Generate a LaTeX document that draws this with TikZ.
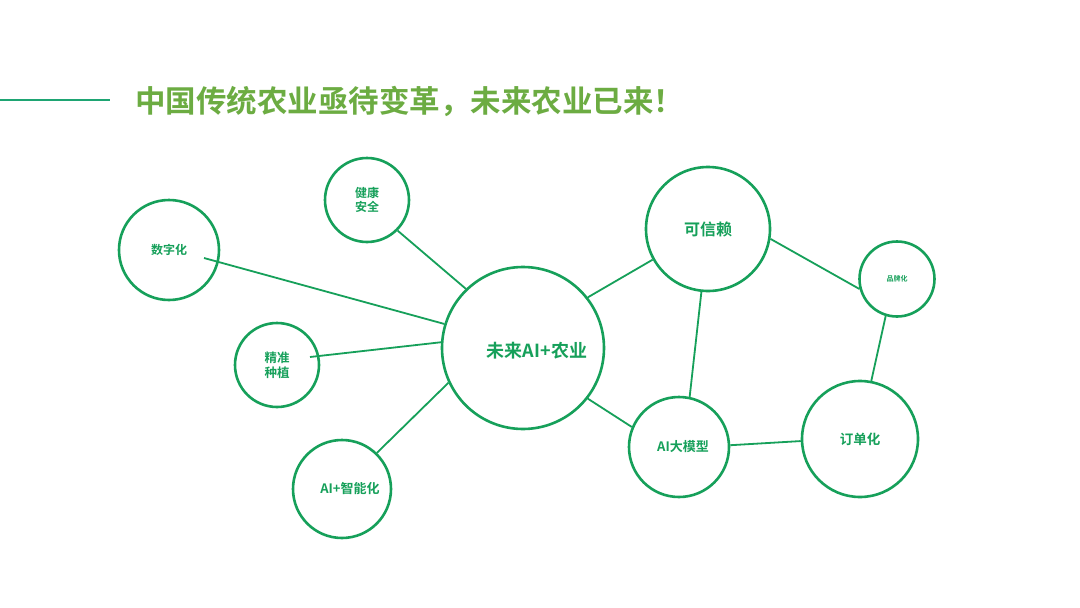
\documentclass[tikz,border=0pt]{standalone}
\usepackage{fontspec}
\setmainfont{Noto Sans CJK SC}[BoldFont={Noto Sans CJK SC Bold}]
\definecolor{cgreen}{RGB}{22,160,90}
\definecolor{tgreen}{RGB}{108,172,66}
\definecolor{lgreen}{RGB}{30,165,115}
\begin{document}
\begin{tikzpicture}[x=1pt,y=-1pt,
  bub/.style={circle,draw=cgreen,line width=2.6pt,inner sep=0pt,text=cgreen,font=\bfseries,align=center},
  link/.style={draw=cgreen,line width=1.8pt}]
\useasboundingbox (0,0) rectangle (1080,608);
\fill[white] (0,0) rectangle (1080,608);
% title
\draw[lgreen,line width=2pt] (0,100) -- (110,100);
\node[anchor=west,text=tgreen,font=\bfseries\fontsize{30.5}{33}\selectfont,inner sep=0pt] (title) at (135,101) {中国传统农业亟待变革，未来农业已来！};
% bubbles
\node[bub,minimum size=162pt] (core) at (523,348) {};
\node[text=cgreen,font=\bfseries\fontsize{18}{20}\selectfont,inner sep=0pt] (coretxt) at (537,351) {未来AI+农业};
\node[bub,minimum size=100pt,font=\bfseries\fontsize{12}{14}\selectfont] (shu) at (169,250) {数字化};
\node[bub,minimum size=84pt,font=\bfseries\fontsize{12}{14.5}\selectfont] (jian) at (367,200) {健康\\安全};
\node[bub,minimum size=84pt,font=\bfseries\fontsize{12.5}{15}\selectfont] (jing) at (277,365) {精准\\种植};
\node[bub,minimum size=98pt,font=\bfseries\fontsize{13}{15}\selectfont] (zhi) at (342,489) {\hspace*{16pt}AI+智能化};
\node[bub,minimum size=124pt,font=\bfseries\fontsize{16}{18}\selectfont] (xin) at (708,229) {\raisebox{-2pt}{可信赖}};
\node[bub,minimum size=75pt,font=\bfseries\fontsize{7}{8}\selectfont] (pin) at (897,279) {品牌化};
\node[bub,minimum size=100pt,font=\bfseries\fontsize{13}{15}\selectfont] (mx) at (679,447) {\hspace*{8pt}AI大模型};
\node[bub,minimum size=116pt,font=\bfseries\fontsize{13.5}{15}\selectfont] (dd) at (860,439) {订单化};
% free ends inside circles
\coordinate (shuend) at (204,258);
\coordinate (jingend) at (310,357);
% links
\draw[link] (shuend) -- (core.163);
\draw[link] (jingend) -- (core.176);
\draw[link] (jian.315) -- (core.134);
\draw[link] (zhi.46) -- (core.205);
\draw[link] (core.38) -- (xin.209);
\draw[link] (core.322) -- (mx.157);
\draw[link] (xin.264) -- (mx.78);
\draw[link] (xin.351) -- (pin.195);
\draw[link] (pin.253) -- (dd.79);
\draw[link] (mx.2) -- (dd.182);
\end{tikzpicture}
\end{document}
